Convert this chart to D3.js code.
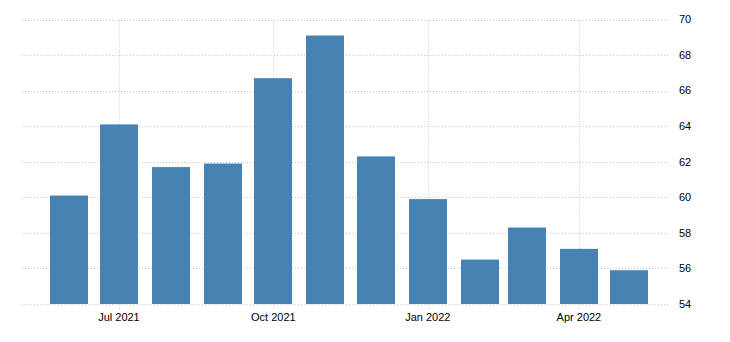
<!DOCTYPE html>
<html>
<head>
<meta charset="utf-8">
<script src="https://cdn.jsdelivr.net/npm/d3@7"></script>
<style>
  body { margin: 0; background: #fff; }
  text { font-family: "Liberation Sans", Arial, sans-serif; font-size: 11px; fill: #000; }
</style>
</head>
<body>
<svg id="chart" width="730" height="342"></svg>
<script>
const months = ["2021-06", "2021-07", "2021-08", "2021-09", "2021-10", "2021-11",
                "2021-12", "2022-01", "2022-02", "2022-03", "2022-04", "2022-05"];
const values = [60.1, 64.1, 61.7, 61.9, 66.7, 69.1, 62.3, 59.9, 56.5, 58.3, 57.1, 55.9];
const yTicks = [54, 56, 58, 60, 62, 64, 66, 68, 70];
const xTicks = ["2021-07", "2021-10", "2022-01", "2022-04"];

const parse = d3.timeParse("%Y-%m");
const svg = d3.select("#chart");

const x = d3.scaleTime()
    .domain([new Date(2021, 4, 4, 6), new Date(2022, 4, 25, 6)])
    .range([22, 670]);
const y = d3.scaleLinear().domain([54, 70]).range([304, 19.5]);

const barW = 38;

// horizontal grid
svg.append("g")
    .selectAll("line")
    .data(yTicks)
    .enter().append("line")
    .attr("x1", 22).attr("x2", 670)
    .attr("y1", d => Math.round(y(d)) + 0.5)
    .attr("y2", d => Math.round(y(d)) + 0.5)
    .style("stroke", "#c8c8c8")
    .style("stroke-dasharray", "1,2");

// vertical grid + ticks
svg.append("g")
    .selectAll("line")
    .data(xTicks.map(parse))
    .enter().append("line")
    .attr("x1", d => Math.round(x(d)) + 0.5)
    .attr("x2", d => Math.round(x(d)) + 0.5)
    .attr("y1", y(70)).attr("y2", 309)
    .style("stroke", "#c8c8c8")
    .style("stroke-dasharray", "1,2");

// bars
svg.append("g")
    .selectAll("rect")
    .data(months.map((m, i) => ({ date: parse(m), v: values[i] })))
    .enter().append("rect")
    .attr("x", d => Math.round(x(d.date) - barW / 2))
    .attr("width", barW)
    .attr("y", d => y(d.v))
    .attr("height", d => y(54) - y(d.v))
    .style("fill", "#4682b4");

// y labels on right
svg.append("g")
    .selectAll("text")
    .data(yTicks)
    .enter().append("text")
    .attr("x", 679)
    .attr("y", d => y(d))
    .attr("dy", "0.35em")
    .text(d => d);

// x labels
const fmt = d3.timeFormat("%b %Y");
svg.append("g")
    .selectAll("text")
    .data(xTicks.map(parse))
    .enter().append("text")
    .attr("x", d => x(d))
    .attr("y", 321)
    .attr("text-anchor", "middle")
    .text(d => fmt(d));
</script>
</body>
</html>
